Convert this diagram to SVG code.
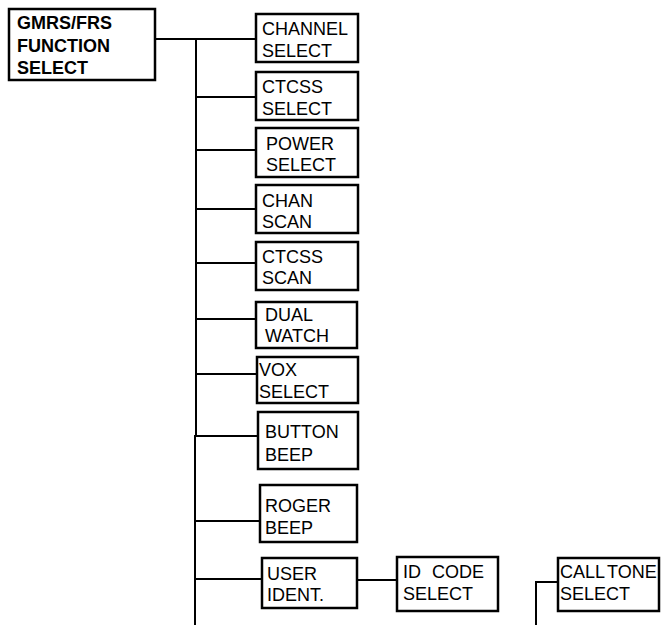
<svg xmlns="http://www.w3.org/2000/svg" width="661" height="625" viewBox="0 0 661 625">
<style>
  .box { fill: #fff; stroke: #000; stroke-width: 2.5; }
  .t { font-family: "Liberation Sans", Arial, sans-serif; font-size: 18px; fill: #000; }
  .b { font-weight: bold; }
  .c { fill: none; stroke: #000; stroke-width: 2; }
</style>
<rect width="661" height="625" fill="#fff"/>
<g id="connectors">
  <line class="c" x1="155" y1="39" x2="256" y2="39"/>
  <polyline class="c" points="196,39 196,436 195,436 195,625"/>
  <line class="c" x1="196" y1="97" x2="256" y2="97"/>
  <line class="c" x1="196" y1="150" x2="256" y2="150"/>
  <line class="c" x1="196" y1="209" x2="256" y2="209"/>
  <line class="c" x1="196" y1="263" x2="256" y2="263"/>
  <line class="c" x1="196" y1="319" x2="256" y2="319"/>
  <line class="c" x1="196" y1="374" x2="257" y2="374"/>
  <line class="c" x1="196" y1="436" x2="258" y2="436"/>
  <line class="c" x1="195" y1="521" x2="260" y2="521"/>
  <line class="c" x1="195" y1="579" x2="262" y2="579"/>
  <line class="c" x1="357" y1="580" x2="397" y2="580"/>
  <polyline class="c" points="558,582 536,582 536,625"/>
</g>
<g id="main">
  <rect class="box" x="9" y="9" width="146" height="71"/>
  <text class="t b" x="17" y="29">GMRS/FRS</text>
  <text class="t b" x="17" y="52">FUNCTION</text>
  <text class="t b" x="17" y="74">SELECT</text>
</g>
<g id="channel-select">
  <rect class="box" x="256" y="14" width="102" height="48"/>
  <text class="t" x="262" y="35">CHANNEL</text>
  <text class="t" x="262" y="57">SELECT</text>
</g>
<g id="ctcss-select">
  <rect class="box" x="256" y="72" width="102" height="48"/>
  <text class="t" x="262" y="93">CTCSS</text>
  <text class="t" x="262" y="115">SELECT</text>
</g>
<g id="power-select">
  <rect class="box" x="256" y="128" width="102" height="49"/>
  <text class="t" x="266" y="150">POWER</text>
  <text class="t" x="266" y="171">SELECT</text>
</g>
<g id="chan-scan">
  <rect class="box" x="256" y="185" width="102" height="48"/>
  <text class="t" x="262" y="207">CHAN</text>
  <text class="t" x="262" y="228">SCAN</text>
</g>
<g id="ctcss-scan">
  <rect class="box" x="256" y="242" width="102" height="48"/>
  <text class="t" x="262" y="263">CTCSS</text>
  <text class="t" x="262" y="284">SCAN</text>
</g>
<g id="dual-watch">
  <rect class="box" x="256" y="302" width="101" height="46"/>
  <text class="t" x="265" y="321">DUAL</text>
  <text class="t" x="265" y="342">WATCH</text>
</g>
<g id="vox-select">
  <rect class="box" x="257" y="357" width="101" height="46"/>
  <text class="t" x="259" y="376">VOX</text>
  <text class="t" x="259" y="398">SELECT</text>
</g>
<g id="button-beep">
  <rect class="box" x="258" y="412" width="100" height="57"/>
  <text class="t" x="265" y="438">BUTTON</text>
  <text class="t" x="265" y="461">BEEP</text>
</g>
<g id="roger-beep">
  <rect class="box" x="260" y="485" width="97" height="57"/>
  <text class="t" x="265" y="512">ROGER</text>
  <text class="t" x="265" y="534">BEEP</text>
</g>
<g id="user-ident">
  <rect class="box" x="262" y="558" width="95" height="50"/>
  <text class="t" x="267" y="580">USER</text>
  <text class="t" x="267" y="601">IDENT.</text>
</g>
<g id="id-code-select">
  <rect class="box" x="397" y="557" width="101" height="54"/>
  <text class="t" x="403" y="578" word-spacing="6">ID CODE</text>
  <text class="t" x="403" y="600">SELECT</text>
</g>
<g id="call-tone-select">
  <rect class="box" x="558" y="558" width="101" height="53"/>
  <text class="t" x="560" y="578" word-spacing="-2">CALL TONE</text>
  <text class="t" x="560" y="600">SELECT</text>
</g>
</svg>
